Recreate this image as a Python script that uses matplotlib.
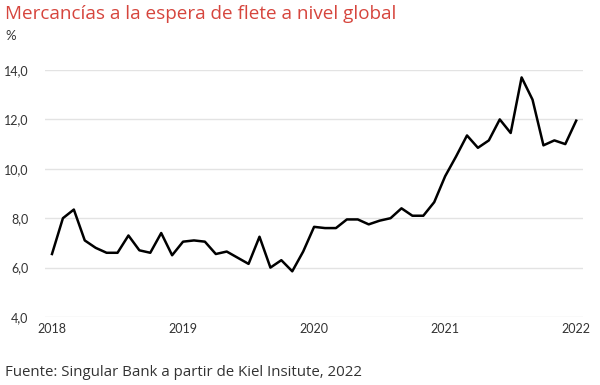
import matplotlib.pyplot as plt
from matplotlib.ticker import FuncFormatter

plt.rcParams['font.family'] = ['Lato', 'DejaVu Sans']

# monthly values, Jan 2018 .. Jan 2022
valores = [6.55, 8.0, 8.35, 7.1, 6.8, 6.6, 6.6, 7.3, 6.7, 6.6, 7.4, 6.5,
           7.05, 7.1, 7.05, 6.55, 6.65, 6.4, 6.15, 7.25, 6.0, 6.3, 5.85, 6.65,
           7.65, 7.6, 7.6, 7.95, 7.95, 7.75, 7.9, 8.0, 8.4, 8.1, 8.1, 8.65,
           9.7, 10.5, 11.35, 10.85, 11.15, 12.0, 11.45, 13.7, 12.8, 10.95, 11.15, 11.0,
           11.95]
meses = list(range(len(valores)))
anios = ["2018", "2019", "2020", "2021", "2022"]
y_ticks = [4, 6, 8, 10, 12, 14]

fig = plt.figure(figsize=(6, 3.85), dpi=100)
ax = fig.add_axes([0.075, 1 - 317 / 385, 0.897, (317 - 70) / 385])

ax.plot(meses, valores, color="black", lw=1.8, clip_on=False, zorder=3)

ax.set_xlim(-0.64, 48.64)
ax.set_ylim(4, 14)
ax.set_xticks([i * 12 for i in range(len(anios))])
ax.set_xticklabels(anios)
ax.set_yticks(y_ticks)
ax.yaxis.set_major_formatter(FuncFormatter(lambda v, p: f"{v:.1f}".replace(".", ",")))

ax.grid(axis="y", color="#e3e3e3", lw=1)
ax.set_axisbelow(True)
for s in ax.spines.values():
    s.set_visible(False)
ax.tick_params(length=0, labelsize=9, colors="#333333")
ax.tick_params(axis="x", pad=4)
ax.tick_params(axis="y", pad=12)

fig.text(5 / 600, 1 - 14 / 385, "Mercancías a la espera de flete a nivel global",
         color="#d6453d", fontsize=13.6, va="center", ha="left", family="Open Sans")
fig.text(5 / 600, 1 - 36 / 385, "%", color="#333333", fontsize=9.5, va="center", ha="left")
fig.text(5 / 600, 1 - 373 / 385, "Fuente: Singular Bank a partir de Kiel Insitute, 2022",
         color="#333333", fontsize=10.8, va="center", ha="left", family="Open Sans")

plt.savefig("out.png", dpi=100)
